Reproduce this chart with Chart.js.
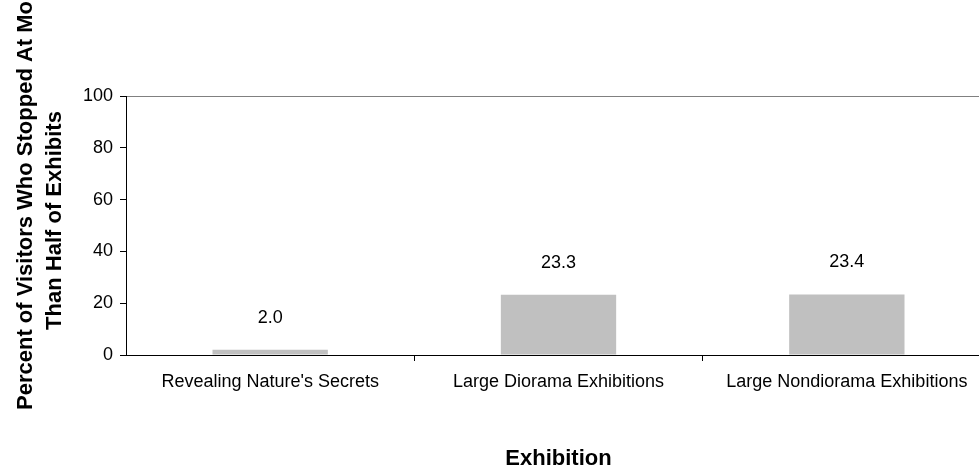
<!DOCTYPE html>
<html>
<head>
<meta charset="utf-8">
<script src="https://cdn.jsdelivr.net/npm/chart.js@4/dist/chart.umd.min.js"></script>
<style>
  html, body { margin: 0; padding: 0; background: #fff; overflow: hidden; }
  #wrap { width: 991px; height: 474px; }
</style>
</head>
<body>
<div id="wrap"><canvas id="c" width="991" height="474"></canvas></div>
<script>
// Exhibitions compared
const categories = ["Revealing Nature's Secrets", "Large Diorama Exhibitions", "Large Nondiorama Exhibitions"];
// Percent of visitors who stopped at more than half of the exhibits
const percentStopped = [2.0, 23.3, 23.4];
const yTicks = [0, 20, 40, 60, 80, 100];
const yTitleLines = ["Percent of Visitors Who Stopped At More", "Than Half of Exhibits"];
const xTitle = "Exhibition";

const FONT = "'Liberation Sans', Arial, sans-serif";

// Value labels above each bar
const valueLabels = {
  id: 'valueLabels',
  afterDatasetsDraw(chart) {
    const ctx = chart.ctx;
    const meta = chart.getDatasetMeta(0);
    ctx.save();
    ctx.font = "18px " + FONT;
    ctx.fillStyle = '#000';
    ctx.textAlign = 'center';
    ctx.textBaseline = 'middle';
    meta.data.forEach((bar, i) => {
      ctx.fillText(percentStopped[i].toFixed(1), bar.x, bar.y - 32);
    });
    ctx.restore();
  }
};

// Two-line rotated title for the value axis
const yTitle = {
  id: 'yTitle',
  afterDraw(chart) {
    const ctx = chart.ctx;
    ctx.save();
    ctx.font = "bold 22px " + FONT;
    ctx.fillStyle = '#000';
    ctx.textBaseline = 'alphabetic';
    // first line starts low and runs upward past the top edge
    ctx.save();
    ctx.translate(32, 410);
    ctx.rotate(-Math.PI / 2);
    ctx.textAlign = 'left';
    ctx.fillText(yTitleLines[0], 0, 0);
    ctx.restore();
    // second line centred beside the axis
    ctx.save();
    ctx.translate(61, 220.5);
    ctx.rotate(-Math.PI / 2);
    ctx.textAlign = 'center';
    ctx.fillText(yTitleLines[1], 0, 0);
    ctx.restore();
    ctx.restore();
  }
};

new Chart(document.getElementById('c'), {
  type: 'bar',
  data: {
    labels: categories,
    datasets: [{
      data: percentStopped,
      backgroundColor: '#c0c0c0',
      borderWidth: 0,
      categoryPercentage: 1.0,
      barPercentage: 0.4
    }]
  },
  options: {
    responsive: false,
    animation: false,
    devicePixelRatio: 1,
    layout: { padding: { top: 96, left: 0, right: 0, bottom: 0 } },
    plugins: {
      legend: { display: false },
      tooltip: { enabled: false },
      title: { display: false }
    },
    scales: {
      x: {
        type: 'category',
        position: 'bottom',
        offset: true,
        grid: {
          offset: true,
          drawOnChartArea: false,
          drawTicks: true,
          tickLength: 6,
          color: (c) => (c.index === 0 ? 'rgba(0,0,0,0)' : '#000'),
          lineWidth: 1
        },
        border: { display: true, color: '#000', width: 1 },
        ticks: {
          color: '#000',
          font: { family: FONT, size: 18 },
          padding: 10,
          maxRotation: 0,
          autoSkip: false
        },
        title: {
          display: true,
          text: xTitle,
          color: '#000',
          font: { family: FONT, size: 22, weight: 'bold' },
          padding: { top: 0, bottom: 2 }
        },
        afterFit(scale) { scale.height = 119; }
      },
      xTop: {
        type: 'category',
        position: 'top',
        offset: true,
        labels: categories,
        grid: { display: false, drawTicks: false },
        border: { display: true, color: '#808080', width: 1 },
        ticks: { display: false },
        afterFit(scale) { scale.height = 0; }
      },
      y: {
        min: 0,
        max: 100,
        afterBuildTicks(scale) { scale.ticks = yTicks.map(v => ({ value: v })); },
        grid: {
          drawOnChartArea: false,
          drawTicks: true,
          tickLength: 6,
          color: '#000',
          lineWidth: 1
        },
        border: { display: true, color: '#000', width: 1 },
        ticks: {
          color: '#000',
          font: { family: FONT, size: 18 },
          padding: 7
        },
        afterFit(scale) { scale.width = 126; }
      }
    }
  },
  plugins: [valueLabels, yTitle]
});
</script>
</body>
</html>
